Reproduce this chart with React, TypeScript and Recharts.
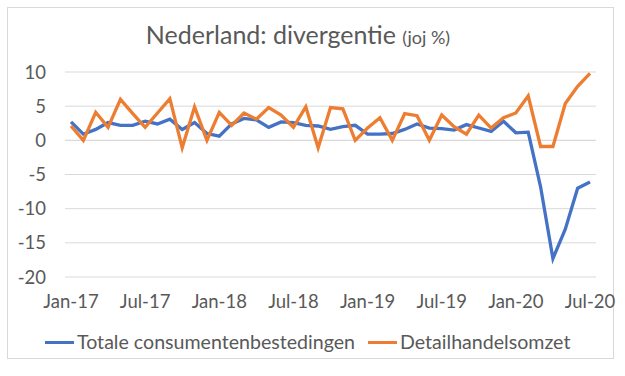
import * as React from "react";
import {
  CartesianGrid,
  Line,
  LineChart,
  ReferenceLine,
  XAxis,
  YAxis,
} from "recharts";

// Monthly year-on-year growth (%), Jan-17 .. Jul-20
const months = [
  "Jan-17", "Feb-17", "Mar-17", "Apr-17", "May-17", "Jun-17", "Jul-17", "Aug-17", "Sep-17", "Oct-17", "Nov-17", "Dec-17",
  "Jan-18", "Feb-18", "Mar-18", "Apr-18", "May-18", "Jun-18", "Jul-18", "Aug-18", "Sep-18", "Oct-18", "Nov-18", "Dec-18",
  "Jan-19", "Feb-19", "Mar-19", "Apr-19", "May-19", "Jun-19", "Jul-19", "Aug-19", "Sep-19", "Oct-19", "Nov-19", "Dec-19",
  "Jan-20", "Feb-20", "Mar-20", "Apr-20", "May-20", "Jun-20", "Jul-20",
];

const consumentenbestedingen = [
  2.7, 0.9, 1.6, 2.6, 2.2, 2.2, 2.8, 2.4, 3.1, 1.6, 2.6, 1.0,
  0.6, 2.4, 3.2, 3.0, 1.9, 2.7, 2.6, 2.2, 2.1, 1.6, 2.0, 2.2,
  0.9, 0.9, 1.0, 1.6, 2.4, 1.8, 1.7, 1.5, 2.3, 1.8, 1.3, 2.8,
  1.1, 1.2, -6.8, -17.3, -13.0, -7.0, -6.1,
];

const detailhandelsomzet = [
  2.1, 0.0, 4.1, 1.9, 6.0, 3.9, 1.9, 4.0, 6.1, -1.1, 4.9, 0.0,
  4.1, 2.2, 4.0, 3.1, 4.8, 3.7, 1.9, 4.9, -1.1, 4.8, 4.6, 0.0,
  1.8, 3.3, 0.0, 3.9, 3.6, 0.0, 3.7, 2.0, 0.9, 3.7, 1.8, 3.3,
  4.0, 6.5, -0.9, -0.9, 5.4, 7.9, 9.8,
];

const yTicks = [-20, -15, -10, -5, 0, 5, 10];

const BLUE = "#4472C4";
const ORANGE = "#ED7D31";
const TEXT = "#595959";
const GRID = "#d9d9d9";
const FONT = "Lato, 'Noto Sans', sans-serif";

const data = months.map((m, i) => ({
  month: m,
  totaal: consumentenbestedingen[i],
  detail: detailhandelsomzet[i],
}));

const legendItems = [
  { label: "Totale consumentenbestedingen", color: BLUE },
  { label: "Detailhandelsomzet", color: ORANGE },
];

export default function App() {
  return (
    <div style={{ position: "relative", width: 625, height: 376, background: "#fff" }}>
      <style>{`body{margin:0}`}</style>
      <div
        style={{
          position: "absolute",
          left: 7,
          top: 7,
          width: 607,
          height: 352,
          border: "1px solid #d9d9d9",
          boxSizing: "border-box",
        }}
      />
      <div
        style={{
          position: "absolute",
          top: 19,
          left: 0,
          width: 596,
          textAlign: "center",
          fontFamily: FONT,
          color: TEXT,
          fontSize: 25,
          lineHeight: "30px",
        }}
      >
        Nederland: divergentie <span style={{ fontSize: 18 }}>(joj %)</span>
      </div>
      <div style={{ position: "absolute", left: 0, top: 0 }}>
        <LineChart
          width={625}
          height={376}
          data={data}
          margin={{ top: 72, right: 29, bottom: 59, left: 0 }}
        >
          <CartesianGrid vertical={false} stroke={GRID} strokeWidth={1} />
          <XAxis
            dataKey="month"
            interval={5}
            padding={{ left: 6, right: 6 }}
            axisLine={false}
            tickLine={false}
            tick={{ fill: TEXT, fontSize: 18.5, fontFamily: FONT }}
            tickMargin={12}
            height={40}
          />
          <YAxis
            domain={[-20, 10]}
            ticks={yTicks}
            axisLine={false}
            tickLine={false}
            width={65}
            tick={{ fill: TEXT, fontSize: 18.5, fontFamily: FONT }}
            tickMargin={13}
          />
          <ReferenceLine y={0} stroke={GRID} strokeWidth={1} />
          <Line
            dataKey="totaal"
            name="Totale consumentenbestedingen"
            stroke={BLUE}
            strokeWidth={3.3}
            dot={false}
            isAnimationActive={false}
          />
          <Line
            dataKey="detail"
            name="Detailhandelsomzet"
            stroke={ORANGE}
            strokeWidth={3.3}
            dot={false}
            isAnimationActive={false}
          />
        </LineChart>
      </div>
      <div
        style={{
          position: "absolute",
          top: 330,
          left: 45,
          display: "flex",
          gap: 13,
          fontFamily: FONT,
          fontSize: 19.6,
          lineHeight: "24px",
          color: TEXT,
        }}
      >
        {legendItems.map((it) => (
          <div key={it.label} style={{ display: "flex", alignItems: "center" }}>
            <span style={{ display: "inline-block", width: 29, height: 3, background: it.color, marginRight: 3 }} />
            <span>{it.label}</span>
          </div>
        ))}
      </div>
    </div>
  );
}
